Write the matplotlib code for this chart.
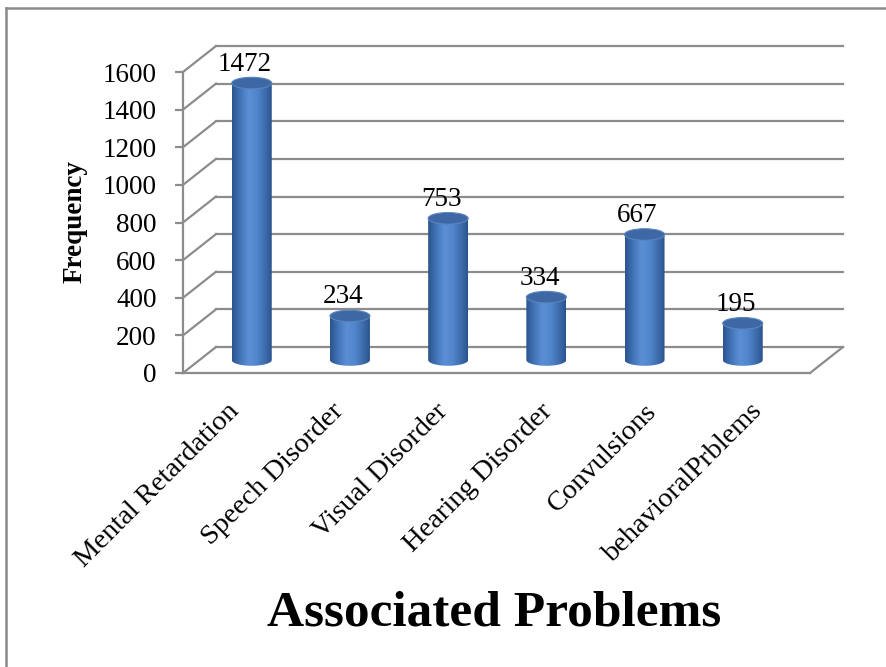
import numpy as np
import matplotlib
matplotlib.use("Agg")
import matplotlib.pyplot as plt
from matplotlib import transforms
from matplotlib.patches import Ellipse, Polygon
from matplotlib.colors import LinearSegmentedColormap
from matplotlib.lines import Line2D

categories = ["Mental Retardation", "Speech Disorder", "Visual Disorder",
              "Hearing Disorder", "Convulsions", "behavioralPrblems"]
frequency = [1472, 234, 753, 334, 667, 195]
yticks = [0, 200, 400, 600, 800, 1000, 1200, 1400, 1600]

W, H, DPI = 887, 667, 100
plt.rcParams['font.family'] = ['Liberation Serif', 'DejaVu Serif']

fig = plt.figure(figsize=(W/DPI, H/DPI), dpi=DPI)
ax = fig.add_axes([183/W, 294/H, 627/W, 301/H])  # front plane of the 3d box
ax.set_xlim(-0.5, 5.5)
ax.set_ylim(0, 1600)
ax.set_autoscale_on(False)
ax.patch.set_visible(False)

px_x = 627/6.0      # pixels per category
px_v = 301/1600.0   # pixels per unit
ddx = 33/px_x       # depth of the box in data units
ddy = 26/px_v
grid = '#8c8c8c'


def depth(frac):  # transform that pushes things back into the box
    return transforms.Affine2D().translate(frac*ddx, frac*ddy) + ax.transData


back = depth(1.0)
mid = depth(0.5)

# back wall grid + left wall diagonals
for v in yticks:
    ax.plot([-0.5, 5.5], [v, v], transform=back, color=grid, lw=1.6, zorder=1, clip_on=False)
    ax.plot([-0.5, -0.5+ddx], [v, v+ddy], color=grid, lw=1.6, zorder=1, clip_on=False)
ax.plot([5.5, 5.5+ddx], [0, ddy], color=grid, lw=1.6, zorder=1, clip_on=False)

# front axis
for s in ['top', 'right']:
    ax.spines[s].set_visible(False)
for s in ['left', 'bottom']:
    ax.spines[s].set_color(grid)
    ax.spines[s].set_linewidth(1.6)
ax.set_yticks(yticks)
ax.tick_params(axis='y', length=6, width=1.6, color=grid, pad=13, labelsize=19.5)
ax.set_xticks(range(len(categories)))
ax.set_xticklabels(categories, rotation=45, ha='right', va='center',
                   rotation_mode='anchor', fontsize=20.5)
ax.tick_params(axis='x', length=0, pad=25)

# cylinders
cmap = LinearSegmentedColormap.from_list('cyl', [
    (0.0, '#2b548c'), (0.2, '#4173b6'), (0.42, '#5b8fd6'),
    (0.62, '#5186cc'), (0.85, '#3c6aa8'), (1.0, '#2a5390')])
grad = np.linspace(0, 1, 256).reshape(1, -1)
bar_step = 98.2/px_x   # bars sit a bit tighter than the category slots
bw = 40/px_x
eh = 5.8/px_v          # half height of the end ellipses
t = np.linspace(np.pi, 2*np.pi, 60)

for i, v in enumerate(frequency):
    x = i*bar_step
    pts = [(x - bw/2, v)]
    pts += list(zip(x + bw/2*np.cos(t), eh*np.sin(t)))
    pts += [(x + bw/2, v)]
    body = Polygon(pts, closed=True, transform=mid, facecolor='none', edgecolor='none')
    im = ax.imshow(grad, cmap=cmap, extent=[x - bw/2, x + bw/2, -eh, v],
                   aspect='auto', transform=mid, zorder=3, interpolation='bicubic')
    im.set_clip_path(body)
    ax.add_patch(Ellipse((x, v), bw, 2*eh, transform=mid, facecolor='#3d68a3',
                         edgecolor='#5a85bf', lw=0.8, zorder=4))
    ax.annotate(str(v), (x, v), xycoords=mid, xytext=(-5, 9), textcoords='offset points',
                ha='center', va='baseline', fontsize=19.5, zorder=5)

ax.set_xlim(-0.5, 5.5)
ax.set_ylim(0, 1600)

fig.text(75/W, (H-222)/H, 'Frequency', rotation=90, ha='center', va='center',
         fontsize=19.5, fontweight='bold')
fig.text(494/W, 42/H, 'Associated Problems', ha='center', va='baseline',
         fontsize=37, fontweight='bold')

# outer frame (left and top only are visible in the original)
fig.add_artist(Line2D([6/W, 6/W], [0, (H-8)/H], color='#8a8a8a', lw=1.8, transform=fig.transFigure))
fig.add_artist(Line2D([6/W, 1], [(H-8)/H, (H-8)/H], color='#8a8a8a', lw=1.8, transform=fig.transFigure))

fig.savefig('out.png', dpi=DPI)
